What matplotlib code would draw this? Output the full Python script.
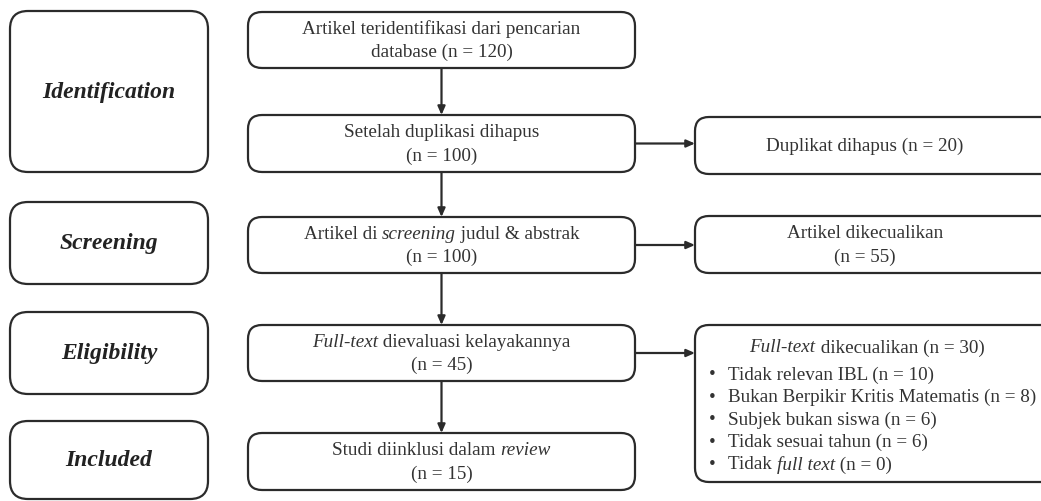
import matplotlib
matplotlib.use("Agg")
import matplotlib.pyplot as plt
from matplotlib.patches import FancyBboxPatch

# stage labels on the left
stages = ["Identification", "Screening", "Eligibility", "Included"]
stage_boxes = [(10, 12, 198, 161), (10, 203, 198, 82), (10, 313, 198, 82), (10, 422, 198, 78)]

# main flow (segments: (text, italic))
main_text = [
    [[("Artikel teridentifikasi dari pencarian", False)], [("database (n = 120)", False)]],
    [[("Setelah duplikasi dihapus", False)], [("(n = 100)", False)]],
    [[("Artikel di ", False), ("screening", True), (" judul & abstrak", False)], [("(n = 100)", False)]],
    [[("Full-text", True), (" dievaluasi kelayakannya", False)], [("(n = 45)", False)]],
    [[("Studi diinklusi dalam ", False), ("review", True)], [("(n = 15)", False)]],
]
main_boxes = [(248, 13, 387, 56), (248, 116, 387, 57), (248, 218, 387, 56), (248, 326, 387, 56), (248, 434, 387, 57)]

# excluded side boxes
side_text = [
    [[("Duplikat dihapus (n = 20)", False)]],
    [[("Artikel dikecualikan", False)], [("(n = 55)", False)]],
]
side_boxes = [(695, 118, 360, 57), (695, 217, 360, 57)]
side_from = [1, 2]

excl_title = [("Full-text", True), (" dikecualikan (n = 30)", False)]
excl_items = [
    [("Tidak relevan IBL (n = 10)", False)],
    [("Bukan Berpikir Kritis Matematis (n = 8)", False)],
    [("Subjek bukan siswa (n = 6)", False)],
    [("Tidak sesuai tahun (n = 6)", False)],
    [("Tidak ", False), ("full text", True), (" (n = 0)", False)],
]
excl_box = (695, 326, 360, 157)

W, H = 1041, 502
EC = "#2b2b2b"
TC = "#333333"
FONT = "Liberation Serif"
FS = 13.8

fig = plt.figure(figsize=(W / 100, H / 100), dpi=100)
ax = fig.add_axes([0, 0, 1, 1])
ax.set_xlim(0, W)
ax.set_ylim(H, 0)
ax.axis("off")
renderer = fig.canvas.get_renderer()


def box(b, r):
    x, y, w, h = b
    ax.add_patch(FancyBboxPatch((x, y), w, h, boxstyle=f"round,pad=0,rounding_size={r}",
                                fc="white", ec=EC, lw=1.6, zorder=2))


def rich_line(x, y, segs, ha="center", size=FS):
    texts = []
    for s, it in segs:
        t = ax.text(0, y, s, fontsize=size, family=FONT, style="italic" if it else "normal",
                    va="center", ha="left", color=TC, zorder=3)
        texts.append(t)
    widths = [t.get_window_extent(renderer).width for t in texts]
    total = sum(widths)
    cx = x - total / 2 if ha == "center" else x
    for t, w in zip(texts, widths):
        t.set_x(cx)
        cx += w


def arrow(x0, y0, x1, y1):
    ax.annotate("", xy=(x1, y1), xytext=(x0, y0),
                arrowprops=dict(arrowstyle="-|>,head_length=0.5,head_width=0.22", color=EC, lw=1.6,
                                shrinkA=0, shrinkB=0), zorder=1)


for name, b in zip(stages, stage_boxes):
    box(b, 18)
    ax.text(b[0] + b[2] / 2, b[1] + b[3] / 2, name, fontsize=17, family=FONT,
            style="italic", weight="bold", ha="center", va="center", color="#222222", zorder=3)

LS = 23
for lines, b in zip(main_text, main_boxes):
    box(b, 14)
    cy = b[1] + b[3] / 2
    y0 = cy - LS * (len(lines) - 1) / 2
    for i, segs in enumerate(lines):
        rich_line(b[0] + b[2] / 2, y0 + i * LS, segs)

cx_main = main_boxes[0][0] + main_boxes[0][2] / 2
for a, c in zip(main_boxes[:-1], main_boxes[1:]):
    arrow(cx_main, a[1] + a[3], cx_main, c[1])

for lines, b, src in zip(side_text, side_boxes, side_from):
    box(b, 14)
    cy = b[1] + b[3] / 2
    y0 = cy - LS * (len(lines) - 1) / 2
    for i, segs in enumerate(lines):
        rich_line(b[0] + b[2] / 2 - 10, y0 + i * LS, segs)
    m = main_boxes[src]
    arrow(m[0] + m[2], m[1] + m[3] / 2, b[0], m[1] + m[3] / 2)

box(excl_box, 14)
rich_line(excl_box[0] + 172, 348, excl_title)
for i, segs in enumerate(excl_items):
    yy = 375 + i * 22.5
    ax.text(712, yy, "\u2022", fontsize=FS, family=FONT, va="center", ha="center", color=TC, zorder=3)
    rich_line(728, yy, segs, ha="left")
m = main_boxes[3]
arrow(m[0] + m[2], m[1] + m[3] / 2, excl_box[0], m[1] + m[3] / 2)

fig.savefig("out.png", dpi=100)
